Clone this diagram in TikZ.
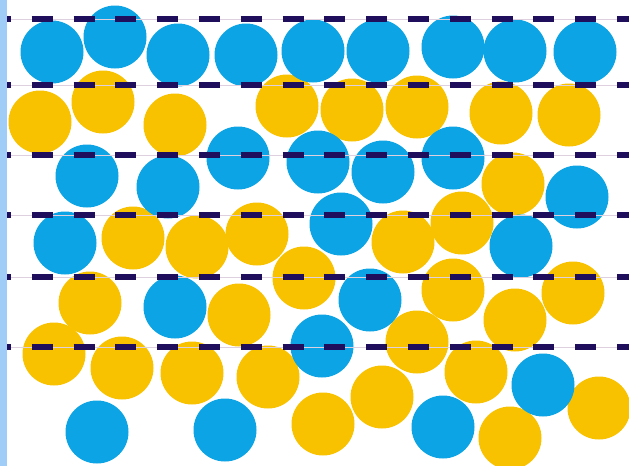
\documentclass[tikz,border=0pt]{standalone}
\usepackage{tikz}
\definecolor{ballblue}{RGB}{12,164,228}
\definecolor{ballyellow}{RGB}{249,194,0}
\definecolor{layerdash}{RGB}{30,14,92}
\definecolor{stripblue}{RGB}{160,204,248}
\definecolor{hairline}{RGB}{222,208,222}

\begin{document}
\begin{tikzpicture}[x=0.4mm,y=-0.4mm,
  bluedisc/.style={fill=ballblue},
  yellowdisc/.style={fill=ballyellow},
  layerline/.style={layerdash,line width=2.4mm,dash pattern=on 8.4mm off 8.32mm,dash phase=6.96mm}]
%\draw[help lines] (0,0) grid[step=50] (629,466);
\useasboundingbox (0,0) rectangle (629,466);
\fill[white] (0,0) rectangle (629,466);
%
\foreach \p in {(40,122),(103,102),(175,125),(287,106),(352,110),(417,107),(501,113),(569,115)} % row 2
\fill[yellowdisc] \p circle[radius=31.5];
\foreach \p in {(513,184),(133,238),(197,247),(257,234),(403,242),(462,223)} % rows 3-4
\fill[yellowdisc] \p circle[radius=31.5];
\foreach \p in {(90,303),(239,315),(304,278),(453,290),(515,320),(573,293),(417,342)} % row 5
\fill[yellowdisc] \p circle[radius=31.5];
\foreach \p in {(54,354),(122,368),(192,373),(268,377),(323,424),(382,397),(476,372),(510,438),(599,408)} % row 6
\fill[yellowdisc] \p circle[radius=31.5];
%
\foreach \p in {(52,52),(115,37),(178,55),(246,55),(313,51),(378,51),(453,47),(515,51),(585,52)} % row 1
\fill[bluedisc] \p circle[radius=31.5];
\foreach \p in {(87,176),(168,187),(238,158),(318,162),(383,172),(453,158),(577,197)} % row 3
\fill[bluedisc] \p circle[radius=31.5];
\foreach \p in {(65,243),(341,224),(521,246),(175,307),(370,300),(322,346)} % rows 4-5
\fill[bluedisc] \p circle[radius=31.5];
\foreach \p in {(97,432),(225,430),(443,427),(543,385)} % bottom
\fill[bluedisc] \p circle[radius=31.5];
%
\foreach \y in {19,85,155,215,277,347}{
\draw[hairline,line width=0.3mm] (7.3,\y)--(629,\y);
\draw[layerline] (7.3,\y)--(629,\y);
}
\fill[stripblue] (0,0) rectangle (7.3,466);
\end{tikzpicture}
\end{document}
